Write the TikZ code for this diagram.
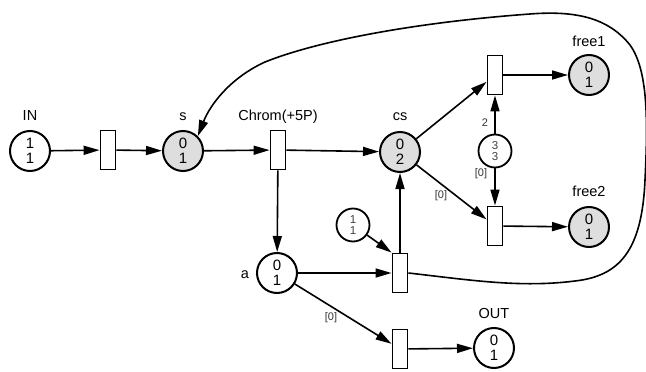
\documentclass[tikz,border=0pt]{standalone}
\usepackage{fontspec}
\setmainfont{Liberation Sans}
\usetikzlibrary{arrows.meta}

\tikzset{
  place/.style={circle, draw, line width=2pt, minimum size=40pt, inner sep=0pt,
    align=center, font=\fontsize{15}{15.5}\selectfont},
  marked/.style={place, fill=black!13},
  smallplace/.style={circle, draw, line width=1.8pt, minimum size=33pt, inner sep=0pt,
    align=center, text=black!75, font=\fontsize{11.5}{11}\selectfont},
  trans/.style={rectangle, draw, line width=1.9pt, minimum width=15pt,
    minimum height=39pt, inner sep=0pt, fill=white},
  lbl/.style={anchor=base, inner sep=0pt, font=\fontsize{14.5}{15}\selectfont},
  weight/.style={inner sep=0pt, text=black!80, font=\fontsize{11}{11}\selectfont},
  arc/.style={line width=1.6pt, -{Triangle[length=16pt,width=9pt]}},
}

\begin{document}
\begin{tikzpicture}[x=1pt, y=-1pt]
\useasboundingbox (0,0) rectangle (646,372);

% places
\node[place]  (IN)    at (30,151)  {1\\1};
\node[marked] (s)     at (183,151) {0\\1};
\node[marked] (cs)    at (400,152) {0\\2};
\node[marked] (free1) at (589,75)  {0\\1};
\node[marked] (free2) at (589,227) {0\\1};
\node[place]  (a)     at (277,273) {0\\1};
\node[place]  (OUT)   at (494,348) {0\\1};
\node[smallplace] (p33) at (495,151) {3\\3};
\node[smallplace] (p11) at (353,225) {1\\1};

% transitions
\node[trans] (tin)   at (108,150) {};
\node[trans] (chrom) at (278,150) {};
\node[trans] (tf1)   at (495,75)  {};
\node[trans] (tf2)   at (495,226) {};
\node[trans] (ta)    at (400,273) {};
\node[trans] (tout)  at (400,349) {};

% names
\node[lbl] (INl)    at (30,120.5)  {IN};
\node[lbl] (sl)     at (183,120.5) {s};
\node[lbl] (chroml) at (278,120.5) {Chrom(+5P)};
\node[lbl] (csl)    at (400,120.5) {cs};
\node[lbl] (free1l) at (589,46)    {free1};
\node[lbl] (free2l) at (589,196)   {free2};
\node[lbl] (OUTl)   at (494,318)   {OUT};
\node[lbl] (al)     at (245,278)   {a};

% arcs
\draw[arc] (IN) -- (tin);
\draw[arc] (tin) -- (s);
\draw[arc] (s) -- (chrom);
\draw[arc] (chrom) -- (cs);
\draw[arc] (chrom) -- (a);
\draw[arc] (cs) -- (tf1);
\draw[arc] (cs) -- (tf2);
\draw[arc] (p33) -- (tf1);
\draw[arc] (p33) -- (tf2);
\draw[arc] (tf1) -- (free1);
\draw[arc] (tf2) -- (free2);
\draw[arc] (ta) -- (cs);
\draw[arc] (a) -- (ta);
\draw[arc] (p11) -- (ta.north west);
\draw[arc] (a) -- (tout);
\draw[arc] (tout) -- (OUT);

% long return arc from ta back to s
\draw[arc] (ta.east)
  .. controls (470,280) and (520,288) .. (575,281)
  .. controls (620,276) and (642,250) .. (645,180)
  .. controls (648,120) and (648,70) .. (630,45)
  .. controls (610,20) and (580,10) .. (530,14)
  .. controls (420,22) and (320,40) .. (265,62)
  .. controls (230,78) and (210,105) .. (s.45);

% arc weights
\node[weight] (w2)  at (485,123) {2};
\node[weight] (w0a) at (481,174) {[0]};
\node[weight] (w0b) at (441,196) {[0]};
\node[weight] (w0c) at (331,318) {[0]};
\end{tikzpicture}
\end{document}
